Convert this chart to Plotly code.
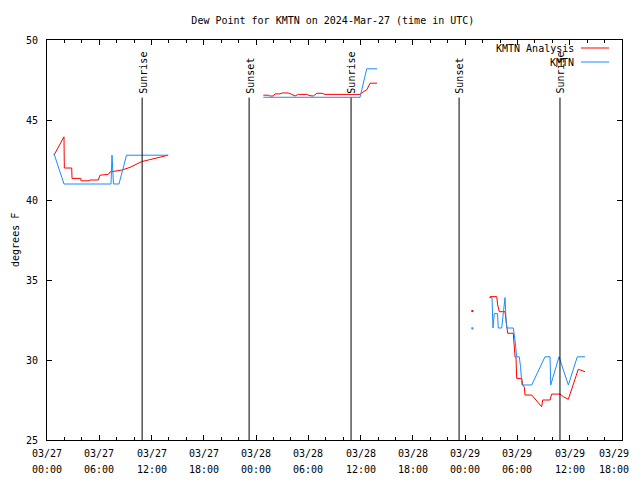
import datetime as dt
import plotly.graph_objects as go

BASE = dt.datetime(2024, 3, 27, 0, 0)

# Hours after 2024-03-27 00:00 UTC; None breaks the line (missing data)
red_hours = [0.80, 1.95, 1.99, 2.84, 2.87, 3.87, 3.90, 4.86, 4.89, 5.89, 6.08, 7.04, 7.23,
             8.57, 9.53, 10.10, 10.87, 11.63, 12.40, 13.17, 13.92, None,
             24.83, 25.40, 25.60, 25.98, 26.17, 26.74, 26.97, 27.70, 28.09, 28.47, 28.85,
             29.81, 30.19, 30.57, 30.96, 31.57, 31.91, 35.93, 36.31, 36.70, 37.08, 37.88, None,
             50.85, 51.62, 51.73, 51.92, 52.57, 52.77, 52.88, 53.52, 53.72, 53.83, 53.91,
             54.49, 54.60, 54.79, 54.87, 55.64, 56.78, 56.90, 57.74, 57.93, 58.88, 59.26,
             59.84, 60.98, 61.75]
red_vals = [42.8, 43.95, 42.0, 42.0, 41.35, 41.35, 41.2, 41.2, 41.25, 41.25, 41.55, 41.6, 41.75,
            41.87, 42.04, 42.19, 42.4, 42.5, 42.6, 42.7, 42.8, None,
            46.55, 46.55, 46.5, 46.5, 46.63, 46.63, 46.69, 46.69, 46.6, 46.5, 46.6,
            46.6, 46.52, 46.5, 46.67, 46.67, 46.6, 46.6, 46.77, 46.88, 47.3, 47.3, None,
            33.96, 33.96, 33.44, 33.02, 33.02, 32.29, 31.67, 31.67, 30.2, 30.2, 28.85,
            28.85, 28.44, 28.3, 27.81, 27.81, 27.08, 27.5, 27.5, 27.87, 27.87, 27.71,
            27.54, 29.42, 29.27]

blue_hours = [0.80, 1.95, 7.35, 7.46, 7.63, 8.26, 9.13, 13.89, None,
              24.83, 35.93, 36.70, 37.88, None,
              50.73, 51.08, 51.19, 51.34, 51.71, 51.80, 52.19, 52.38, 52.57, 52.69, 52.77,
              53.52, 53.72, 53.91, 54.21, 54.35, 54.52, 55.64, 57.16, 57.74, 57.82, 58.77,
              59.84, 60.87, 61.75]
blue_vals = [42.9, 41.0, 41.0, 42.8, 41.0, 41.0, 42.8, 42.8, None,
             46.42, 46.42, 48.2, 48.2, None,
             33.9, 33.9, 32.0, 32.9, 32.9, 32.0, 32.0, 32.9, 33.9, 32.5, 32.0,
             32.0, 31.25, 30.2, 30.2, 29.6, 28.44, 28.44, 30.2, 30.2, 28.44, 30.2,
             28.44, 30.2, 30.2]

# isolated single observations
red_pt_hours, red_pt_vals = [48.82], [33.06]
blue_pt_hours, blue_pt_vals = [48.82], [31.98]

sun_hours = [10.92, 23.20, 34.90, 47.30, 58.88]
sun_labels = ["Sunrise", "Sunset", "Sunrise", "Sunset", "Sunrise"]
sun_line_top = 46.4

tick_hours = list(range(0, 67, 6))
x_span_hours = 66
y_range = [25, 50]

RED = "#ff0000"
BLUE = "#1a8cff"
FONT = "DejaVu Sans Mono"


def to_time(hours):
    return [BASE + dt.timedelta(hours=h) if h is not None else None for h in hours]


fig = go.Figure()
fig.add_trace(go.Scatter(x=to_time(red_hours), y=red_vals, mode="lines",
                         line=dict(color=RED, width=1), connectgaps=False, showlegend=False))
fig.add_trace(go.Scatter(x=to_time(blue_hours), y=blue_vals, mode="lines",
                         line=dict(color=BLUE, width=1), connectgaps=False, showlegend=False))
fig.add_trace(go.Scatter(x=to_time(red_pt_hours), y=red_pt_vals, mode="markers",
                         marker=dict(color=RED, size=2, symbol="square"), showlegend=False))
fig.add_trace(go.Scatter(x=to_time(blue_pt_hours), y=blue_pt_vals, mode="markers",
                         marker=dict(color=BLUE, size=2, symbol="square"), showlegend=False))

for h, lab in zip(sun_hours, sun_labels):
    t = BASE + dt.timedelta(hours=h)
    fig.add_shape(type="line", xref="x", yref="y", x0=t, x1=t, y0=y_range[0], y1=sun_line_top,
                  line=dict(color="black", width=1))
    fig.add_annotation(x=t, y=sun_line_top, xref="x", yref="y", text=lab, textangle=-90,
                       showarrow=False, xanchor="center", yanchor="bottom", xshift=1, yshift=2,
                       font=dict(family=FONT, size=10, color="black"))

# gnuplot-style legend: right-justified text, sample line to the right
legend_items = [("KMTN Analysis", RED), ("KMTN", BLUE)]
for i, (name, col) in enumerate(legend_items):
    yp = 0.98 - i * 0.035
    fig.add_annotation(x=0.9195, y=yp, xref="paper", yref="paper", text=name, showarrow=False,
                       xanchor="right", yanchor="middle",
                       font=dict(family=FONT, size=10, color="black"))
    fig.add_shape(type="line", xref="paper", yref="paper", x0=0.9287, x1=0.9774, y0=yp, y1=yp,
                  line=dict(color=col, width=1))

fig.add_annotation(x=-0.0557, y=0.5, xref="paper", yref="paper", text="degrees F",
                   textangle=-90, showarrow=False, xanchor="center", yanchor="middle",
                   font=dict(family=FONT, size=10, color="black"))

# two-row time tick labels (date row, time row), gnuplot spacing
tick_times = to_time(tick_hours)
for i, t in enumerate(tick_times):
    last = i == len(tick_times) - 1
    for row_text, shift in ((t.strftime("%m/%d"), -13), (t.strftime("%H:%M"), -29)):
        fig.add_annotation(x=t, y=0, xref="x", yref="paper", text=row_text, showarrow=False,
                           xanchor="right" if last else "center",
                           xshift=9 if last else 0,
                           yanchor="middle", yshift=shift,
                           font=dict(family=FONT, size=10, color="black"))

# the page body has an 8px margin, so the figure is 8px smaller and margins reduced
fig.update_layout(
    width=632, height=472,
    margin=dict(l=39, r=18, t=32, b=40, autoexpand=False),
    paper_bgcolor="white", plot_bgcolor="white",
    font=dict(family=FONT, size=10, color="black"),
    title=dict(text="Dew Point for KMTN on 2024-Mar-27 (time in UTC)", x=0.514, xanchor="center",
               y=1 - 12 / 472, yanchor="middle", font=dict(family=FONT, size=10, color="black")),
    showlegend=False,
)
fig.update_xaxes(
    type="date",
    range=[BASE, BASE + dt.timedelta(hours=x_span_hours)],
    tickvals=tick_times, showticklabels=False,
    ticks="inside", ticklen=5, tickcolor="black",
    minor=dict(dtick=2 * 3600 * 1000, ticks="inside", ticklen=3, tickcolor="black",
               showgrid=False),
    showline=True, linecolor="black", linewidth=1, mirror="ticks",
    showgrid=False, zeroline=False,
)
fig.update_yaxes(
    range=y_range, dtick=5, tick0=25,
    ticks="inside", ticklen=5, tickcolor="black",
    showline=True, linecolor="black", linewidth=1, mirror="ticks",
    showgrid=False, zeroline=False, ticklabelstandoff=6,
    tickfont=dict(family=FONT, size=10, color="black"),
)

fig.write_html("out.html", default_width="632px", default_height="472px")
